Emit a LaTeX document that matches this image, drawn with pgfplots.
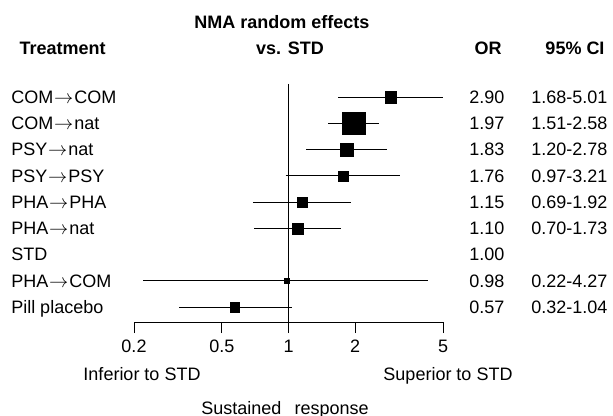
\documentclass[border=0pt]{standalone}
\usepackage{pgfplots}
\pgfplotsset{compat=1.18}
\usepackage{pgfplotstable}
\usepackage{fontspec}
\setmainfont{Liberation Sans}

% one row per treatment: row, OR, lower, upper, square side (px)
\pgfplotstableread{
y   or    lo    hi    side
1   2.90  1.68  5.01  11.7
2   1.97  1.51  2.58  22.5
3   1.83  1.20  2.78  13.0
4   1.76  0.97  3.21  10.3
5   1.15  0.69  1.92  10.5
6   1.10  0.70  1.73  11.5
8   0.98  0.22  4.27  4.7
9   0.57  0.32  1.04  10.0
}\forest

\newcommand{\tf}{\fontsize{13.5}{16}\selectfont}
\newcommand{\ar}{\hspace{0.05em}$\rightarrow$\hspace{0.05em}}

\begin{document}
\begin{tikzpicture}
\path[use as bounding box] (0,0) rectangle (459.75pt,-312pt);

\begin{axis}[
    at={(100.5pt,-241.5pt)}, anchor=south west,
    scale only axis,
    width=231.75pt, height=178.6pt,
    xmode=log, xmin=0.2, xmax=5,
    ymin=0.5, ymax=9.571, y dir=reverse,
    axis x line=bottom, axis y line=none,
    x axis line style={-, line width=0.75pt},
    xtick={0.2,0.5,1,2,5},
    xticklabels={0.2,0.5,1,2,5},
    xtick align=outside,
    major tick length=8.25pt,
    every tick/.style={black, line width=0.75pt},
    xticklabel style={font=\tf, yshift=-2pt},
    /pgf/number format/assume math mode=true,
    unbounded coords=jump,
    clip=false,
]
% reference line at OR = 1
\addplot[black, line width=0.9pt] coordinates {(1,0.5) (1,9.571)};

% confidence intervals
\addplot[black, line width=0.75pt] table {
x y
1.68 1
5.01 1
nan nan
1.51 2
2.58 2
nan nan
1.20 3
2.78 3
nan nan
0.97 4
3.21 4
nan nan
0.69 5
1.92 5
nan nan
0.70 6
1.73 6
nan nan
0.22 8
4.27 8
nan nan
0.32 9
1.04 9
};

% point estimates, square size by weight
\addplot[only marks, mark=square*, scatter,
    scatter/use mapped color={draw=black, fill=black},
    mark options={line width=0.2pt},
    visualization depends on={0.375*\thisrow{side} - 0.1 \as \msz},
    scatter/@pre marker code/.append style={/tikz/mark size=\msz}]
    table[x=or, y=y] {\forest};
\end{axis}

\begin{scope}[x=0.75pt, y=-0.75pt]
% headers
\node[font=\tf\bfseries] at (282,22) {NMA random effects};
\node[font=\tf\bfseries, anchor=base west] at (15,54.4) {Treatment};
\node[font=\tf\bfseries, anchor=base] at (290,54.4) {vs. STD};
\node[font=\tf\bfseries, anchor=base] at (488,54.4) {OR};
\node[font=\tf\bfseries, anchor=base] at (575,54.4) {95\% CI};

% rows
\foreach \name/\orv/\ci [count=\i from 0] in {
    COM\ar COM/2.90/1.68-5.01,
    COM\ar nat/1.97/1.51-2.58,
    PSY\ar nat/1.83/1.20-2.78,
    PSY\ar PSY/1.76/0.97-3.21,
    PHA\ar PHA/1.15/0.69-1.92,
    PHA\ar nat/1.10/0.70-1.73,
    STD/1.00/,
    PHA\ar COM/0.98/0.22-4.27,
    Pill placebo/0.57/0.32-1.04}{
  \node[font=\tf, anchor=base west, inner sep=0pt] at (11,103.4+26.25*\i) {\name};
  \node[font=\tf, anchor=base west, inner sep=0pt] at (469,103.4+26.25*\i) {\orv};
  \node[font=\tf, anchor=base west, inner sep=0pt] at (531,103.4+26.25*\i) {\ci};
}

% direction labels and title
\node[font=\tf, anchor=base] at (142,380.4) {Inferior to STD};
\node[font=\tf, anchor=base] at (448,380.4) {Superior to STD};
\node[font=\tf, anchor=base] at (285,414) {Sustained~\hspace{0.45em}response};
\end{scope}
\end{tikzpicture}
\end{document}
